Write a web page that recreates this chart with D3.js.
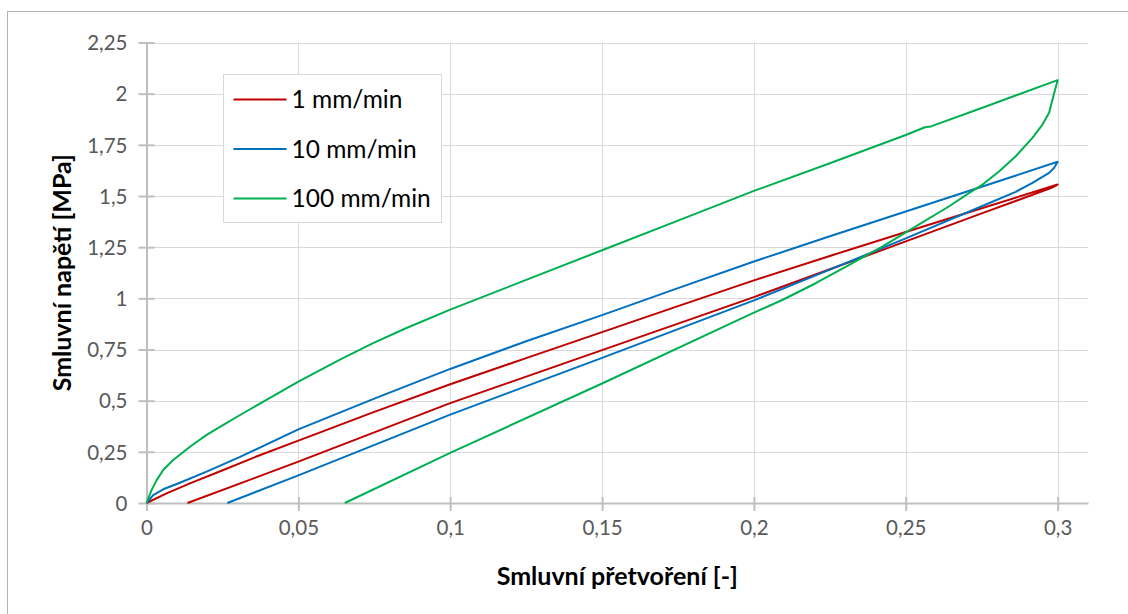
<!DOCTYPE html>
<html>
<head>
<meta charset="utf-8">
<script src="https://cdn.jsdelivr.net/npm/d3@7"></script>
<style>
  body { margin: 0; background: #fff; }
  svg { display: block; font-family: Lato, "Open Sans", sans-serif; }
</style>
</head>
<body>
<div id="chart"></div>
<script>
// series names and colours
const seriesNames = ["1 mm/min", "10 mm/min", "100 mm/min"];
const seriesColors = ["#C00000", "#0070C0", "#00B050"];

// 1 mm/min : loading then unloading
const strain1 = [0, 0.0066, 0.0143, 0.0253, 0.0362, 0.05, 0.075, 0.1, 0.125, 0.15, 0.175, 0.2, 0.225, 0.25, 0.275, 0.3,
                 0.298, 0.275, 0.25, 0.225, 0.2, 0.15, 0.1, 0.05, 0.0135];
const stress1 = [0, 0.047, 0.096, 0.161, 0.227, 0.305, 0.445, 0.58, 0.708, 0.835, 0.962, 1.088, 1.207, 1.324, 1.44, 1.556,
                 1.54, 1.415, 1.278, 1.142, 1.006, 0.747, 0.488, 0.202, 0];

// 10 mm/min
const strain2 = [0, 0.0022, 0.0055, 0.011, 0.0198, 0.0308, 0.05, 0.075, 0.1, 0.125, 0.15, 0.175, 0.2, 0.225, 0.25, 0.275, 0.3,
                 0.2988, 0.2972, 0.295, 0.2917, 0.2862, 0.275, 0.25, 0.225, 0.2, 0.15, 0.1, 0.05, 0.0266];
const stress2 = [0, 0.039, 0.067, 0.099, 0.153, 0.225, 0.36, 0.51, 0.655, 0.79, 0.918, 1.05, 1.18, 1.303, 1.424, 1.545, 1.667,
                 1.637, 1.613, 1.593, 1.564, 1.52, 1.45, 1.293, 1.14, 0.99, 0.709, 0.432, 0.135, 0];

// 100 mm/min
const strain3 = [0, 0.0017, 0.0034, 0.0055, 0.0088, 0.0143, 0.0198, 0.0253, 0.0308, 0.0395, 0.05, 0.0637, 0.0746, 0.0856, 0.1,
                 0.125, 0.15, 0.175, 0.2, 0.225, 0.25, 0.2563, 0.2583, 0.275, 0.3,
                 0.2988, 0.2972, 0.295, 0.2917, 0.2862, 0.2808, 0.2753, 0.2709, 0.2643, 0.2533, 0.2424, 0.2314, 0.2205,
                 0.2095, 0.2, 0.15, 0.1, 0.0653];
const stress3 = [0, 0.064, 0.113, 0.161, 0.21, 0.275, 0.333, 0.382, 0.43, 0.504, 0.593, 0.70, 0.781, 0.855, 0.945,
                 1.09, 1.235, 1.38, 1.525, 1.66, 1.798, 1.836, 1.840, 1.93, 2.066,
                 2.0, 1.907, 1.849, 1.784, 1.694, 1.621, 1.556, 1.515, 1.45, 1.352, 1.254, 1.164, 1.075,
                 0.993, 0.93, 0.584, 0.245, 0];

const xTicks = [0, 0.05, 0.1, 0.15, 0.2, 0.25, 0.3];
const yTicks = [0, 0.25, 0.5, 0.75, 1, 1.25, 1.5, 1.75, 2, 2.25];

const W = 1128, H = 614;
const plot = {left: 146.5, top: 42.5, right: 1088, bottom: 503};

const svg = d3.select("#chart").append("svg")
  .attr("width", W)
  .attr("height", H);

// outer chart border (cut off at right/bottom like the reference)
svg.append("rect")
  .attr("x", 7.5).attr("y", 11.5)
  .attr("width", 1140).attr("height", 640)
  .attr("fill", "#fff")
  .attr("stroke", "#b3b3b3");

const x = d3.scaleLinear().domain([0, 0.31]).range([plot.left, plot.right]);
const y = d3.scaleLinear().domain([0, 2.25]).range([plot.bottom, plot.top]);

const comma = d => String(d).replace(".", ",");

// gridlines
svg.append("g")
  .selectAll("line.hg")
  .data(yTicks.slice(1))
  .enter().append("line")
  .attr("x1", plot.left).attr("x2", plot.right)
  .attr("y1", d => Math.round(y(d)) + 0.5).attr("y2", d => Math.round(y(d)) + 0.5)
  .attr("stroke", "#d9d9d9");

svg.append("g")
  .selectAll("line.vg")
  .data(xTicks.slice(1))
  .enter().append("line")
  .attr("y1", plot.top).attr("y2", plot.bottom)
  .attr("x1", d => Math.round(x(d)) + 0.5).attr("x2", d => Math.round(x(d)) + 0.5)
  .attr("stroke", "#d9d9d9");

// axes
const xAxis = svg.append("g")
  .attr("transform", `translate(0,${plot.bottom})`)
  .call(d3.axisBottom(x).tickValues(xTicks).tickFormat(comma).tickSize(8).tickSizeOuter(0));

const yAxis = svg.append("g")
  .attr("transform", `translate(${plot.left},0)`)
  .call(d3.axisLeft(y).tickValues(yTicks).tickFormat(comma).tickSize(8).tickSizeOuter(0));

[xAxis, yAxis].forEach(g => {
  g.select(".domain").attr("stroke", "#bfbfbf").attr("stroke-width", 2);
  g.selectAll(".tick line").attr("stroke", "#bfbfbf").attr("stroke-width", 2);
  g.selectAll(".tick text")
    .attr("fill", "#595959")
    .style("font-size", "20.5px")
    .style("font-family", "Lato, sans-serif");
});
xAxis.selectAll(".tick line").attr("y1", -6);
xAxis.selectAll(".tick text").attr("y", 17).attr("dy", "0.71em");
yAxis.selectAll(".tick line").attr("x1", 8);
yAxis.selectAll(".tick text").attr("x", -19).attr("dy", "0.35em");

// series lines
const series = [
  {name: seriesNames[0], color: seriesColors[0], pts: strain1.map((s, i) => [s, stress1[i]])},
  {name: seriesNames[1], color: seriesColors[1], pts: strain2.map((s, i) => [s, stress2[i]])},
  {name: seriesNames[2], color: seriesColors[2], pts: strain3.map((s, i) => [s, stress3[i]])}
];

const line = d3.line()
  .x(d => x(d[0]))
  .y(d => y(d[1]));

svg.append("g")
  .selectAll("path")
  .data(series)
  .enter().append("path")
  .attr("d", d => line(d.pts))
  .attr("fill", "none")
  .attr("stroke", d => d.color)
  .attr("stroke-width", 2)
  .attr("stroke-linejoin", "round");

// axis titles
svg.append("text")
  .attr("x", (plot.left + plot.right) / 2)
  .attr("y", 585)
  .attr("text-anchor", "middle")
  .style("font-size", "25px")
  .style("font-weight", "bold")
  .text("Smluvní přetvoření [-]");

svg.append("text")
  .attr("transform", `translate(71,${(plot.top + plot.bottom) / 2}) rotate(-90)`)
  .attr("text-anchor", "middle")
  .style("font-size", "25px")
  .style("font-weight", "bold")
  .text("Smluvní napětí [MPa]");

// legend
const legend = svg.append("g").attr("transform", "translate(223.5,74.5)");
legend.append("rect")
  .attr("width", 218).attr("height", 148)
  .attr("fill", "#fff")
  .attr("stroke", "#d9d9d9");

const item = legend.selectAll("g.item")
  .data(series)
  .enter().append("g")
  .attr("transform", (d, i) => `translate(0,${25 + i * 49.5})`);

item.append("line")
  .attr("x1", 10).attr("x2", 63)
  .attr("stroke", d => d.color)
  .attr("stroke-width", 2);

item.append("text")
  .attr("x", 68)
  .attr("dy", "0.36em")
  .style("font-size", "24.5px")
  .attr("fill", "#000")
  .text(d => d.name);
</script>
</body>
</html>
